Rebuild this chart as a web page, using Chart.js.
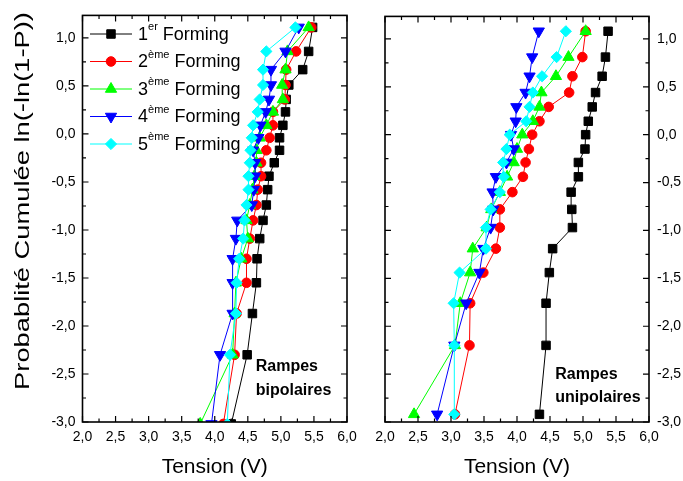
<!DOCTYPE html>
<html>
<head>
<meta charset="utf-8">
<script src="https://cdn.jsdelivr.net/npm/chart.js@4.4.1/dist/chart.umd.min.js"></script>
<style>
  body { margin: 0; background: #fff; }
  #wrap { position: relative; width: 683px; height: 481px; overflow: hidden; }
  .box { position: absolute; top: 0; height: 481px; }
  #boxBip { left: 0; width: 365px; }
  #boxUni { left: 365px; width: 318px; }
</style>
</head>
<body>
<div id="wrap">
  <div class="box" id="boxBip"><canvas id="chartBip"></canvas></div>
  <div class="box" id="boxUni"><canvas id="chartUni"></canvas></div>
</div>
<script>
// axis ticks
const xTicks = [2.0, 2.5, 3.0, 3.5, 4.0, 4.5, 5.0, 5.5, 6.0];
const yTicks = [-3.0, -2.5, -2.0, -1.5, -1.0, -0.5, 0.0, 0.5, 1.0];

// series names (number + superscript)
const seriesNum = ["1", "2", "3", "4", "5"];
const seriesSup = ["er", "ème", "ème", "ème", "ème"];
const seriesWord = "Forming";

// y levels ln(-ln(1-P))
const levelsBip = [-3.02, -2.30, -1.87, -1.55, -1.30, -1.09, -0.90, -0.74, -0.58, -0.44,
                   -0.30, -0.17, -0.04, 0.09, 0.23, 0.36, 0.51, 0.67, 0.86, 1.11];
const levelsUni = [-2.92, -2.20, -1.76, -1.44, -1.19, -0.97, -0.78, -0.60, -0.44,
                   -0.29, -0.15, 0.00, 0.14, 0.29, 0.44, 0.61, 0.81, 1.08];

// tension (V), bipolar ramps
const bip1 = [4.25, 4.49, 4.57, 4.63, 4.64, 4.68, 4.73, 4.78, 4.80, 4.82, 4.90, 4.98, 4.98, 5.03, 5.07, 5.08, 5.12, 5.33, 5.42, 5.48];
const bip2 = [4.13, 4.30, 4.33, 4.48, 4.48, 4.53, 4.58, 4.63, 4.65, 4.70, 4.70, 4.78, 4.83, 4.88, 4.88, 5.06, 5.07, 5.08, 5.23, 5.46];
const bip3 = [3.78, 4.27, 4.30, 4.32, 4.40, 4.50, 4.48, 4.53, 4.57, 4.60, 4.63, 4.63, 4.68, 4.78, 4.88, 5.03, 5.02, 5.07, 5.10, 5.42];
const bip4 = [3.95, 4.08, 4.27, 4.27, 4.27, 4.32, 4.34, 4.56, 4.59, 4.61, 4.61, 4.58, 4.66, 4.69, 4.77, 4.82, 4.85, 4.85, 5.07, 5.27];
const bip5 = [4.19, 4.23, 4.32, 4.33, 4.37, 4.43, 4.45, 4.48, 4.51, 4.51, 4.53, 4.54, 4.56, 4.58, 4.65, 4.68, 4.73, 4.73, 4.78, 5.22];

// tension (V), unipolar ramps
const uni1 = [4.34, 4.44, 4.44, 4.49, 4.54, 4.84, 4.83, 4.82, 4.93, 4.93, 5.03, 5.04, 5.08, 5.14, 5.19, 5.29, 5.34, 5.38];
const uni2 = [3.06, 3.28, 3.29, 3.49, 3.68, 3.74, 3.74, 3.93, 4.09, 4.13, 4.18, 4.23, 4.34, 4.48, 4.79, 4.84, 4.99, 5.04];
const uni3 = [2.44, 3.06, 3.14, 3.29, 3.33, 3.54, 3.61, 3.74, 3.85, 3.95, 4.00, 4.08, 4.24, 4.34, 4.37, 4.59, 4.78, 5.04];
const uni4 = [2.79, 3.05, 3.23, 3.43, 3.49, 3.60, 3.64, 3.63, 3.68, 3.84, 3.95, 3.91, 3.98, 3.99, 4.13, 4.19, 4.23, 4.33];
const uni5 = [3.05, 3.05, 3.04, 3.13, 3.53, 3.53, 3.60, 3.74, 3.80, 3.79, 3.84, 3.89, 4.14, 4.19, 4.24, 4.38, 4.60, 4.74];

const colors = ["#000000", "#ff0000", "#00ff00", "#0000ff", "#00ffff"];
const markers = [
  { pointStyle: "rect", radius: 6, rotation: 0 },
  { pointStyle: "circle", radius: 4.8, rotation: 0 },
  { pointStyle: "triangle", radius: 6.5, rotation: 0 },
  { pointStyle: "triangle", radius: 6.5, rotation: 180 },
  { pointStyle: "rectRot", radius: 5.6, rotation: 0 },
];

const FONT = '"Liberation Sans", Arial, sans-serif';
Chart.defaults.font.family = FONT;
Chart.defaults.color = "#000";

const fmt = (v) => v.toFixed(1).replace(".", ",");

const makeDatasets = function (levels, xsList) {
  return xsList.map((xs, i) => ({
    label: seriesNum[i] + seriesSup[i] + " " + seriesWord,
    data: levels.map((y, k) => ({ x: xs[k], y: y })),
    showLine: true,
    borderColor: colors[i],
    backgroundColor: colors[i],
    borderWidth: 1,
    pointStyle: markers[i].pointStyle,
    pointRadius: markers[i].radius,
    pointRotation: markers[i].rotation,
    pointBorderWidth: 1,
    pointHoverRadius: markers[i].radius,
    order: 5 - i,
  }));
};

// box with inward ticks on all four sides
const framePlugin = {
  id: "frame",
  afterDraw(chart) {
    const { ctx, chartArea: a } = chart;
    const sx = chart.scales.x, sy = chart.scales.y;
    ctx.save();
    ctx.strokeStyle = "#000";
    ctx.lineWidth = 1.2;
    ctx.beginPath();
    for (let k = 0; ; k++) {
      const v = sx.min + k * 0.25;
      if (v > sx.max + 1e-6) break;
      const px = sx.getPixelForValue(v);
      const len = k % 2 === 0 ? 6 : 3.5;
      ctx.moveTo(px, a.bottom); ctx.lineTo(px, a.bottom - len);
      ctx.moveTo(px, a.top); ctx.lineTo(px, a.top + len);
    }
    for (let k = 0; ; k++) {
      const v = sy.min + k * 0.25;
      if (v > sy.max + 1e-6) break;
      const py = sy.getPixelForValue(v);
      const len = k % 2 === 0 ? 6 : 3.5;
      ctx.moveTo(a.left, py); ctx.lineTo(a.left + len, py);
      ctx.moveTo(a.right, py); ctx.lineTo(a.right - len, py);
    }
    ctx.stroke();
    ctx.lineWidth = 1.6;
    ctx.strokeRect(a.left, a.top, a.right - a.left, a.bottom - a.top);
    ctx.restore();
  },
};

// "Rampes ..." note, placed in data units
const notePlugin = {
  id: "note",
  afterDraw(chart, args, opts) {
    const { ctx } = chart;
    ctx.save();
    ctx.font = "bold 16px " + FONT;
    ctx.fillStyle = "#000";
    ctx.textBaseline = "middle";
    ctx.textAlign = "left";
    opts.lines.forEach((t, i) => {
      ctx.fillText(t, chart.scales.x.getPixelForValue(opts.x), chart.scales.y.getPixelForValue(opts.y[i]));
    });
    ctx.restore();
  },
};

// legend with superscripts, inside the left panel
const legendPlugin = {
  id: "supLegend",
  afterDraw(chart) {
    const { ctx } = chart;
    ctx.save();
    chart.data.datasets.forEach((ds, i) => {
      const y = 34 + i * 27.5;
      ctx.strokeStyle = ds.borderColor;
      ctx.fillStyle = ds.backgroundColor;
      ctx.lineWidth = 1;
      ctx.beginPath();
      ctx.moveTo(90, y); ctx.lineTo(132, y);
      ctx.stroke();
      Chart.helpers.drawPoint(ctx, {
        pointStyle: ds.pointStyle, rotation: ds.pointRotation,
        radius: ds.pointRadius, borderWidth: 1,
      }, 111, y);
      ctx.fillStyle = "#000";
      ctx.textBaseline = "middle";
      ctx.textAlign = "left";
      let x = 138;
      ctx.font = "18px " + FONT;
      ctx.fillText(seriesNum[i], x, y + 1);
      x += ctx.measureText(seriesNum[i]).width;
      ctx.font = "11px " + FONT;
      ctx.fillText(seriesSup[i], x, y - 7);
      x += ctx.measureText(seriesSup[i]).width;
      ctx.font = "18px " + FONT;
      ctx.fillText(" " + seriesWord, x, y + 1);
    });
    ctx.restore();
  },
};

// rotated y title, stretched along its length like the source
const yTitlePlugin = {
  id: "yTitle",
  afterDraw(chart) {
    const { ctx } = chart;
    ctx.save();
    ctx.translate(23, 201);
    ctx.rotate(-Math.PI / 2);
    ctx.scale(1.3, 1);
    ctx.font = "21px " + FONT;
    ctx.fillStyle = "#000";
    ctx.textAlign = "center";
    ctx.textBaseline = "middle";
    ctx.fillText("Probablité Cumulée ln(-ln(1-P))", 0, 0);
    ctx.restore();
  },
};

const makeChart = function (id, levels, xsList, side, note, extra) {
  const left = side === "left";
  return new Chart(document.getElementById(id), {
    type: "scatter",
    data: { datasets: makeDatasets(levels, xsList) },
    plugins: [framePlugin, notePlugin].concat(extra),
    options: {
      responsive: true,
      maintainAspectRatio: false,
      animation: false,
      layout: { padding: left ? { left: 0, top: 13, right: 18, bottom: 0 } : { left: 20, top: 13, right: 0, bottom: 0 } },
      plugins: {
        legend: { display: false },
        tooltip: { enabled: false },
        note: note,
      },
      scales: {
        x: {
          type: "linear",
          min: 2.0,
          max: 6.0,
          afterBuildTicks: (s) => { s.ticks = xTicks.map((v) => ({ value: v })); },
          afterFit: (s) => { s.height = 59; },
          grid: { display: false, drawTicks: false },
          border: { display: false },
          ticks: { callback: fmt, padding: 7, font: { size: 14 }, maxRotation: 0, autoSkip: false },
          title: { display: true, text: "Tension (V)", font: { size: 21 }, padding: { top: 0, bottom: 1 } },
        },
        y: {
          type: "linear",
          position: side,
          min: -3.0,
          max: 1.235,
          afterBuildTicks: (s) => { s.ticks = yTicks.map((v) => ({ value: v })); },
          afterFit: (s) => { s.width = left ? 82.5 : 34; },
          grid: { display: false, drawTicks: false },
          border: { display: false },
          ticks: { callback: fmt, padding: left ? 7 : 8, font: { size: 14 }, autoSkip: false },
        },
      },
    },
  });
};

makeChart("chartBip", levelsBip, [bip1, bip2, bip3, bip4, bip5], "left",
  { x: 4.62, y: [-2.42, -2.67], lines: ["Rampes", "bipolaires"] },
  [legendPlugin, yTitlePlugin]);
makeChart("chartUni", levelsUni, [uni1, uni2, uni3, uni4, uni5], "right",
  { x: 4.58, y: [-2.51, -2.75], lines: ["Rampes", "unipolaires"] },
  []);
</script>
</body>
</html>
